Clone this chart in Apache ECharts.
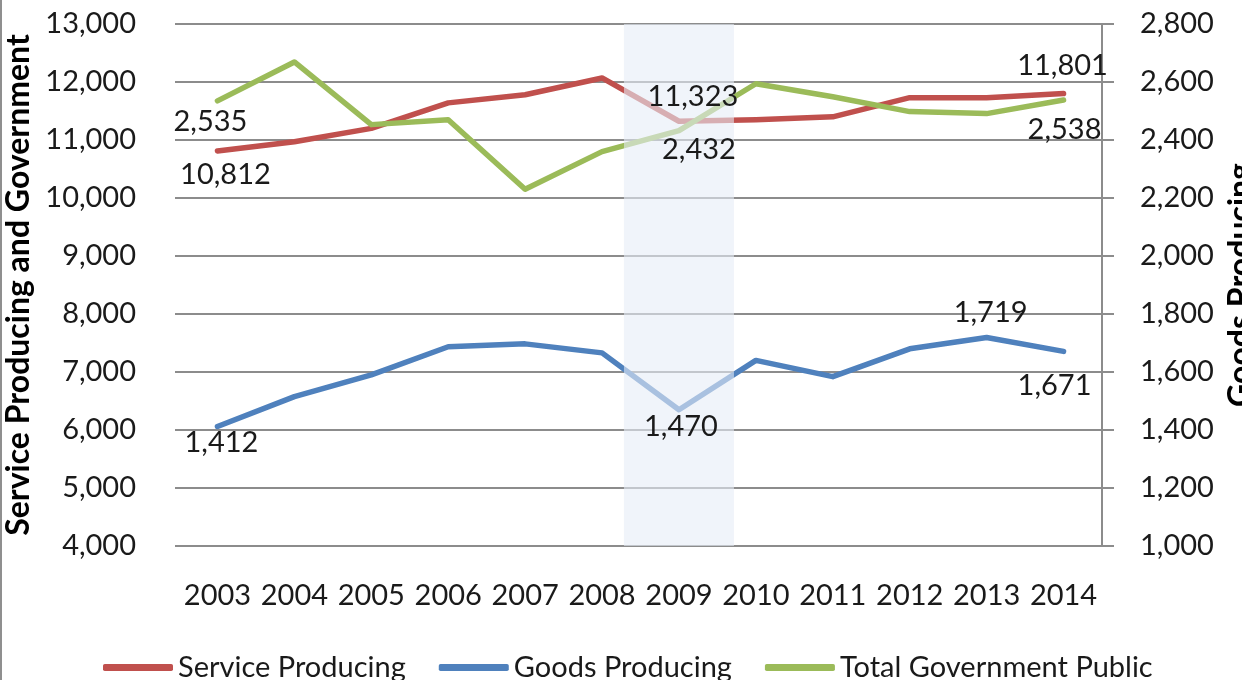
<!DOCTYPE html>
<html>
<head>
<meta charset="utf-8">
<script src="https://cdn.jsdelivr.net/npm/echarts@6/dist/echarts.min.js"></script>
<style>
  html, body { margin: 0; padding: 0; background: #fff; }
  #c { width: 1242px; height: 680px; position: relative; }
  #edge { position: absolute; left: 0; top: 0; width: 2px; height: 680px; background: #8f8f8f; }
</style>
</head>
<body>
<div id="c"></div>
<div id="edge"></div>
<script>
const categories = ['2003','2004','2005','2006','2007','2008','2009','2010','2011','2012','2013','2014'];
const serviceProducing = [10812, 10970, 11200, 11640, 11780, 12070, 11323, 11350, 11400, 11730, 11730, 11801];
const goodsProducing   = [1412, 1515, 1590, 1687, 1697, 1666, 1470, 1640, 1584, 1680, 1719, 1671];
const totalGovernment  = [2535, 2669, 2453, 2470, 2230, 2360, 2432, 2594, 2549, 2498, 2491, 2538];
const shadedYears = ['2009'];
const leftTicks  = { min: 4000, max: 13000, interval: 1000 };
const rightTicks = { min: 1000, max: 2800, interval: 200 };

const FONT = 'Lato';
const TXT = '#1a1a1a';
const GRID = '#8c8c8c';

// label placement (style only): category index -> [dx, dy] of label centre from the point
const serviceLabels = { 0: [8, 24], 6: [14, -25], 11: [-1, -28] };
const goodsLabels   = { 0: [4, 16], 6: [2, 17], 10: [4, -25], 11: [-9, 34] };
const govLabels     = { 0: [-7, 21], 6: [20, 19], 11: [1, 30] };

const fmt = v => Number(v).toLocaleString('en-US');

function lineSeries(name, axis, data, color) {
  return {
    name, type: 'line', yAxisIndex: axis, data,
    symbol: 'none',
    lineStyle: { color, width: 5.5, cap: 'round', join: 'round' },
    itemStyle: { color }, z: 3
  };
}

// label-only layer drawn above the shaded band
function labelSeries(axis, values, spec) {
  return {
    name: 'labels', type: 'scatter', yAxisIndex: axis, silent: true,
    symbolSize: 0, z: 12,
    itemStyle: { opacity: 1 },
    data: values.map((v, i) => {
      const s = spec[i];
      if (!s) return { value: v, label: { show: false } };
      return {
        value: v,
        label: {
          show: true, position: s, align: 'center', verticalAlign: 'middle',
          formatter: p => fmt(Array.isArray(p.value) ? p.value[1] : p.value),
          fontFamily: FONT, fontSize: 29, color: TXT, opacity: 1,
          textBorderWidth: 0
        }
      };
    }),
    labelLayout: { hideOverlap: false }
  };
}

const chart = echarts.init(document.getElementById('c'), null, { renderer: 'canvas' });
chart.setOption({
  animation: false,
  backgroundColor: '#fff',
  textStyle: { fontFamily: FONT },
  grid: { left: 179, right: 140, top: 24, bottom: 134, containLabel: false, outerBoundsMode: 'none' },
  legend: {
    data: ['Service Producing', 'Goods Producing', 'Total Government Public'],
    left: 98, top: 648,
    icon: 'roundRect', itemWidth: 70, itemHeight: 7, itemGap: 33,
    textStyle: { fontFamily: FONT, fontSize: 29, color: TXT }
  },
  xAxis: {
    type: 'category', data: categories, boundaryGap: true,
    axisLine: { show: false }, axisTick: { show: false },
    axisLabel: { fontFamily: FONT, fontSize: 29, color: TXT, margin: 35, interval: 0, hideOverlap: false }
  },
  yAxis: [
    {
      type: 'value', min: leftTicks.min, max: leftTicks.max, interval: leftTicks.interval,
      name: 'Service Producing and Government', nameLocation: 'middle', nameGap: 134,
      nameTextStyle: { fontFamily: FONT, fontSize: 32, fontWeight: 'bold', color: '#000' },
      axisLine: { show: false },
      axisTick: { show: true, length: 4, lineStyle: { color: GRID, width: 2 } },
      axisLabel: { fontFamily: FONT, fontSize: 29, color: TXT, margin: 43, formatter: fmt },
      splitLine: { show: true, lineStyle: { color: GRID, width: 2 } }
    },
    {
      type: 'value', min: rightTicks.min, max: rightTicks.max, interval: rightTicks.interval,
      position: 'right',
      name: 'Goods Producing', nameLocation: 'middle', nameGap: 116,
      nameTextStyle: { fontFamily: FONT, fontSize: 32, fontWeight: 'bold', color: '#000' },
      axisLine: { show: true, lineStyle: { color: GRID, width: 2 } },
      axisTick: { show: true, length: 12, lineStyle: { color: GRID, width: 2 } },
      axisLabel: { fontFamily: FONT, fontSize: 29, color: TXT, margin: 38, formatter: fmt },
      splitLine: { show: false }
    }
  ],
  series: [
    lineSeries('Service Producing', 0, serviceProducing, '#C0504D'),
    lineSeries('Goods Producing', 1, goodsProducing, '#4F81BD'),
    lineSeries('Total Government Public', 1, totalGovernment, '#9BBB59'),
    {
      name: 'shade', type: 'bar', yAxisIndex: 0,
      data: categories.map(c => shadedYears.includes(c) ? leftTicks.max : null),
      barWidth: 110, silent: true,
      itemStyle: { color: 'rgba(230,237,247,0.6)' },
      z: 10
    },
    labelSeries(0, serviceProducing, serviceLabels),
    labelSeries(1, goodsProducing, goodsLabels),
    labelSeries(1, totalGovernment, govLabels)
  ]
});
</script>
</body>
</html>
